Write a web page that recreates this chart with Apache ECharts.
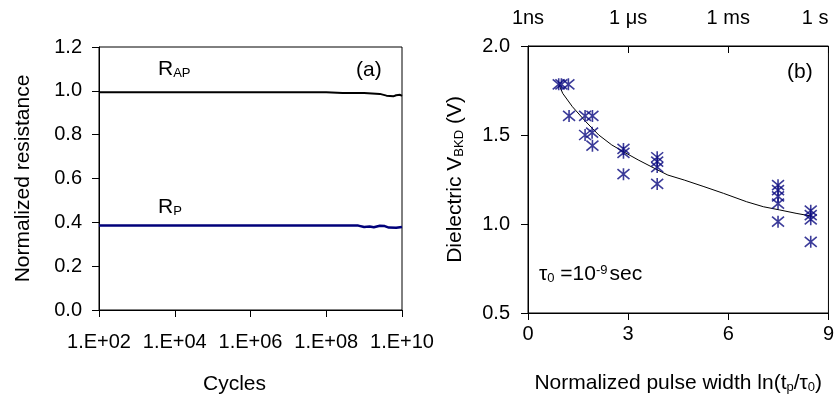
<!DOCTYPE html>
<html>
<head>
<meta charset="utf-8">
<script src="https://cdn.jsdelivr.net/npm/echarts@6/dist/echarts.min.js"></script>
<style>html,body{margin:0;padding:0;background:#fff}#c{width:837px;height:401px}</style>
</head>
<body>
<div id="c"></div>
<script>
// Panel (a): normalized resistance vs cycles
const cyclesAP = [1e2, 1e4, 1e6, 1e8, 2.7e8, 1e9, 2.6e9, 3.9e9, 5.9e9, 7e9, 8.9e9, 1e10];
const valuesAP = [0.994, 0.994, 0.994, 0.994, 0.990, 0.990, 0.986, 0.978, 0.975, 0.980, 0.982, 0.977];
const cyclesP = [1e2, 1e4, 1e6, 1e8, 7e8, 1e9, 1.4e9, 1.8e9, 2.6e9, 3.5e9, 4.5e9, 7e9, 1e10];
const valuesP = [0.385, 0.385, 0.385, 0.385, 0.385, 0.379, 0.381, 0.378, 0.384, 0.383, 0.376, 0.375, 0.379];

// Panel (b): breakdown voltage vs normalized pulse width
const pulseX = [0.92, 1.0, 1.21, 1.23, 1.71, 1.93, 1.71, 1.92, 1.93, 2.86, 2.86, 2.86, 3.87, 3.87, 3.87, 3.87, 7.49, 7.49, 7.49, 7.49, 7.49, 8.47, 8.47, 8.47, 8.47];
const vbkd   = [1.785, 1.785, 1.785, 1.607, 1.607, 1.607, 1.50, 1.513, 1.44, 1.422, 1.40, 1.28, 1.375, 1.35, 1.32, 1.225, 1.218, 1.19, 1.155, 1.115, 1.013, 1.075, 1.05, 1.026, 0.90];
const fitX = [0.92, 1.04, 1.33, 1.73, 2.12, 2.51, 2.86, 3.30, 3.89, 4.19, 4.68, 5.27, 5.86, 6.55, 7.05, 7.54, 8.03, 8.47];
const fitY = [1.787, 1.734, 1.659, 1.575, 1.50, 1.444, 1.406, 1.36, 1.303, 1.275, 1.247, 1.21, 1.172, 1.125, 1.097, 1.079, 1.06, 1.045];
const topTickLabels = {0: '1ns', 3: '1 μs', 6: '1 ms', 9: '1 s'};

const FONT = '"Liberation Sans", Arial, sans-serif';
const FS = 20;   // tick labels
const FN = 21;   // axis names / annotations
const black = '#000';
const axisLineStyle = {lineStyle: {color: black, width: 1}};
const subStyle = {fontFamily: FONT, fontSize: 13, color: black, padding: [8, 0, 0, 0]};

const chart = echarts.init(document.getElementById('c'), null, {renderer: 'canvas'});
const zip = (a, b) => a.map((v, i) => [v, b[i]]);

const star = 'path://M6 0 L6 12 M0 1 L12 11 M0 11 L12 1';

chart.setOption({
  animation: false,
  backgroundColor: '#fff',
  textStyle: {fontFamily: FONT, color: black},
  grid: [
    {left: 99, top: 47, width: 303, height: 263, show: true, borderColor: black, borderWidth: 1, backgroundColor: 'transparent'},
    {left: 528, top: 46, width: 304, height: 267, show: true, borderColor: black, borderWidth: 1, backgroundColor: 'transparent'}
  ],
  xAxis: [
    {
      gridIndex: 0, type: 'log', logBase: 10, min: 1e2, max: 1e10, interval: 2,
      axisLine: axisLineStyle,
      axisTick: {show: true, inside: false, length: 7, lineStyle: {color: black}},
      splitLine: {show: false}, minorTick: {show: false},
      axisLabel: {fontFamily: FONT, fontSize: FS, color: black, margin: 22,
        formatter: v => '1.E+' + String(Math.round(Math.log10(v))).padStart(2, '0')},
      name: 'Cycles', nameLocation: 'middle', nameGap: 64,
      nameTextStyle: {fontFamily: FONT, fontSize: FN, color: black, padding: [0, 32, 0, 0]}
    },
    {
      gridIndex: 1, type: 'value', min: 0, max: 9, interval: 3,
      axisLine: axisLineStyle,
      axisTick: {show: true, inside: false, length: 7, lineStyle: {color: black}},
      splitLine: {show: false},
      axisLabel: {fontFamily: FONT, fontSize: FS, color: black, margin: 11},
      name: 'Normalized pulse width ln(t{s|p}/τ{s|0})', nameLocation: 'middle', nameGap: 60,
      nameTextStyle: {fontFamily: FONT, fontSize: FN, color: black, rich: {s: subStyle}}
    },
    {
      gridIndex: 1, type: 'value', position: 'top', min: 0, max: 9, interval: 3,
      axisLine: axisLineStyle,
      axisTick: {show: true, inside: true, length: 7, lineStyle: {color: black}},
      splitLine: {show: false},
      axisLabel: {fontFamily: FONT, fontSize: FS, color: black, margin: 18, alignMaxLabel: 'right',
        formatter: v => topTickLabels[v] || ''}
    }
  ],
  yAxis: [
    {
      gridIndex: 0, type: 'value', min: 0, max: 1.2, interval: 0.2,
      axisLine: {show: true, lineStyle: {color: black, width: 1}},
      axisTick: {show: true, inside: false, length: 7, lineStyle: {color: black}},
      splitLine: {show: false},
      axisLabel: {fontFamily: FONT, fontSize: FS, color: black, margin: 17,
        formatter: v => v.toFixed(1)},
      name: 'Normalized resistance', nameLocation: 'middle', nameGap: 65,
      nameTextStyle: {fontFamily: FONT, fontSize: FN, color: black}
    },
    {
      gridIndex: 1, type: 'value', min: 0.5, max: 2.0, interval: 0.5,
      axisLine: {show: true, lineStyle: {color: black, width: 1}},
      axisTick: {show: true, inside: false, length: 7, lineStyle: {color: black}},
      splitLine: {show: false},
      axisLabel: {fontFamily: FONT, fontSize: FS, color: black, margin: 18,
        formatter: v => v.toFixed(1)},
      name: 'Dielectric V{s|BKD} (V)', nameLocation: 'middle', nameGap: 62,
      nameTextStyle: {fontFamily: FONT, fontSize: FN, color: black, rich: {s: subStyle}}
    }
  ],
  series: [
    {
      name: 'RAP', type: 'line', xAxisIndex: 0, yAxisIndex: 0, data: zip(cyclesAP, valuesAP),
      showSymbol: false, lineStyle: {color: '#000', width: 2}, z: 3
    },
    {
      name: 'RP', type: 'line', xAxisIndex: 0, yAxisIndex: 0, data: zip(cyclesP, valuesP),
      showSymbol: false, lineStyle: {color: '#00007a', width: 2.5}, z: 3
    },
    {
      name: 'fit', type: 'line', xAxisIndex: 1, yAxisIndex: 1, data: zip(fitX, fitY),
      showSymbol: false, smooth: false, lineStyle: {color: '#000', width: 1}, z: 3
    },
    {
      name: 'VBKD', type: 'scatter', xAxisIndex: 1, yAxisIndex: 1, data: zip(pulseX, vbkd),
      symbol: star, symbolSize: [12, 12],
      itemStyle: {color: 'none', borderColor: '#0a0a80', borderWidth: 1.6}, z: 4
    }
  ],
  graphic: [
    {type: 'text', left: 158, top: 59, style: {
      text: '{a|R}{s|AP}', rich: {
        a: {fontFamily: FONT, fontSize: FN, fill: black},
        s: {fontFamily: FONT, fontSize: 13, fill: black, padding: [8, 0, 0, 0]}}}},
    {type: 'text', left: 158, top: 197, style: {
      text: '{a|R}{s|P}', rich: {
        a: {fontFamily: FONT, fontSize: FN, fill: black},
        s: {fontFamily: FONT, fontSize: 13, fill: black, padding: [8, 0, 0, 0]}}}},
    {type: 'text', left: 356, top: 60, style: {text: '(a)', fontFamily: FONT, fontSize: FN, fill: black}},
    {type: 'text', left: 787, top: 62, style: {text: '(b)', fontFamily: FONT, fontSize: FN, fill: black}},
    {type: 'text', left: 539, top: 264, style: {
      text: '{a|τ}{s|0}{a| =10}{p|-9}{a|sec}', rich: {
        a: {fontFamily: FONT, fontSize: FN, fill: black},
        s: {fontFamily: FONT, fontSize: 13, fill: black, padding: [8, 0, 0, 0]},
        p: {fontFamily: FONT, fontSize: 13, fill: black, padding: [0, 2, 8, 0]}}}}
  ]
});
</script>
</body>
</html>
